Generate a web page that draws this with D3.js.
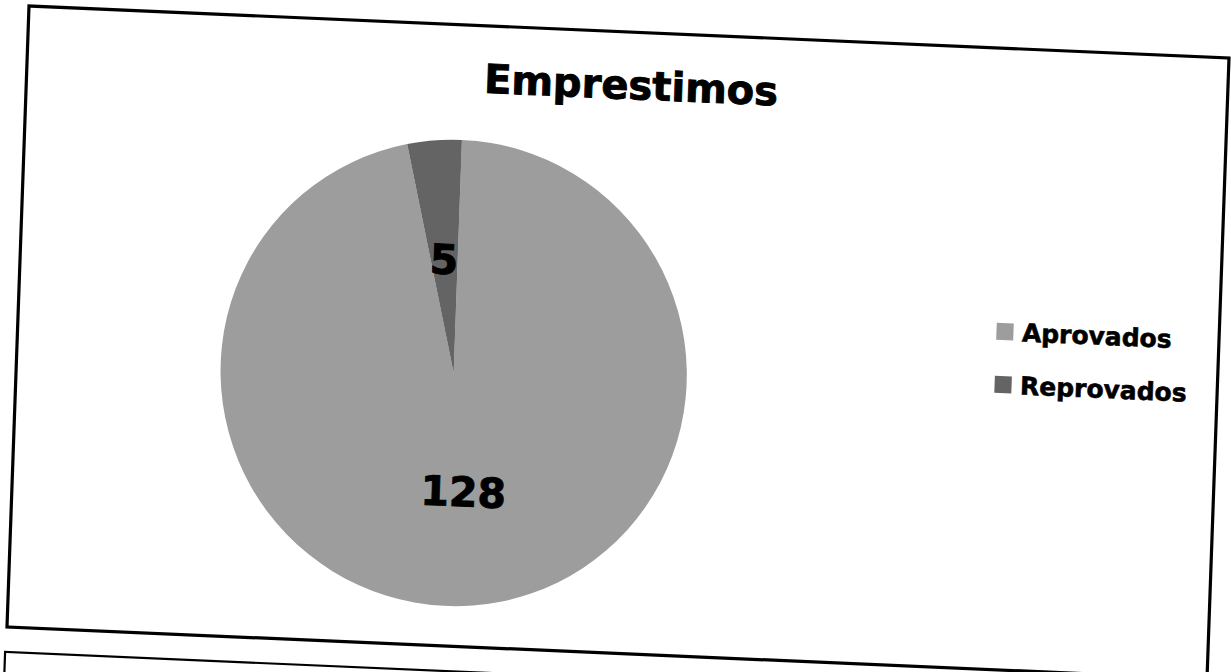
<!DOCTYPE html>
<html>
<head>
<meta charset="utf-8">
<script src="https://cdnjs.cloudflare.com/ajax/libs/d3/7.8.5/d3.min.js"></script>
<style>
  body { margin: 0; background: #fff; }
  .frame { fill: none; stroke: #000; }
  .label { font-family: "DejaVu Sans", sans-serif; font-weight: bold; fill: #000; stroke: #000; stroke-width: 0.9px; }
</style>
</head>
<body>
<div id="pie-chart"></div>
<script>
var chartTitle = "Emprestimos";
var categories = ["Aprovados", "Reprovados"];
var values = [128, 5];

(function(){

  var pc = {

    initialize: function() {
      pc.svg = d3.select("#pie-chart").append("svg")
                 .attr("width", 1231)
                 .attr("height", 672);

      // the scanned page is a bit skewed, so the whole chart sits in a slanted frame
      pc.frameW = 1200;
      pc.frameH = 621;
      pc.skew = "matrix(1,0.04333,-0.03543,1,29,6)";

      pc.radius = 233;
      pc.cx = 437;
      pc.cy = 348;

      pc.color = d3.scaleOrdinal()
                   .domain(categories)
                   .range(["#9d9d9d", "#646464"]);
    },

    draw: function() {
      var g = pc.svg.append("g").attr("transform", pc.skew);

      //-------------------FRAMES--------------------------------------------------
      g.append("rect")
          .attr("class", "frame")
          .attr("x", 0)
          .attr("y", 0)
          .attr("width", pc.frameW)
          .attr("height", pc.frameH)
          .attr("stroke-width", 3.2);

      // top of the next chart on the page
      g.append("rect")
          .attr("class", "frame")
          .attr("x", -1)
          .attr("y", 646)
          .attr("width", pc.frameW)
          .attr("height", 400)
          .attr("stroke-width", 2.2);

      //-------------------TITLE---------------------------------------------------
      g.append("text")
          .attr("class", "label")
          .attr("x", 604)
          .attr("y", 67)
          .attr("text-anchor", "middle")
          .style("font-size", "40px")
          .text(chartTitle);

      //-------------------PIE-----------------------------------------------------
      var data = categories.map(function(c, i) { return {name: c, value: values[i]}; });

      var pie = d3.pie()
                  .sort(null)
                  .value(function(d) { return d.value; });

      var arc = d3.arc()
                  .innerRadius(0)
                  .outerRadius(pc.radius);

      var pg = g.append("g")
                .attr("transform", "translate(" + pc.cx + "," + pc.cy + ")");

      var slices = pg.selectAll(".slice")
                     .data(pie(data))
                     .enter().append("g")
                     .attr("class", "slice");

      slices.append("path")
          .attr("d", arc)
          .attr("fill", function(d) { return pc.color(d.data.name); });

      slices.append("text")
          .attr("class", "label")
          .attr("transform", function(d) { return "translate(" + arc.centroid(d) + ")"; })
          .attr("text-anchor", "middle")
          .attr("dy", "0.42em")
          .style("font-size", "41px")
          .text(function(d) { return d.data.value; });

      //-------------------LEGEND--------------------------------------------------
      var legend = g.selectAll(".legend")
                    .data(categories)
                    .enter().append("g")
                    .attr("class", "legend")
                    .attr("transform", function(d, i) { return "translate(986," + (283 + i * 53) + ")"; });

      legend.append("rect")
          .attr("x", -8.5)
          .attr("y", -8.5)
          .attr("width", 17)
          .attr("height", 17)
          .attr("fill", function(d) { return pc.color(d); });

      legend.append("text")
          .attr("class", "label")
          .attr("x", 17)
          .attr("dy", "0.36em")
          .style("font-size", "25px")
          .style("stroke-width", "0.6px")
          .text(function(d) { return d; });
    }
  };

  pc.initialize();
  pc.draw();
})();
</script>
</body>
</html>
